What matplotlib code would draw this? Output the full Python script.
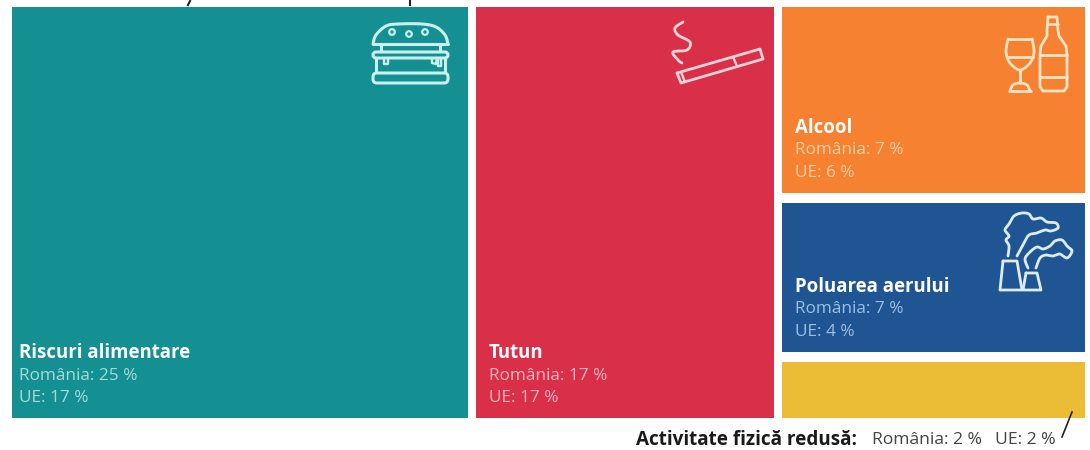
import matplotlib
matplotlib.use("Agg")
import matplotlib.pyplot as plt
import numpy as np
from matplotlib.patches import Rectangle, Circle, FancyBboxPatch

# ---- data ----
names = ["Riscuri alimentare", "Tutun", "Alcool", "Poluarea aerului", "Activitate fizică redusă"]
romania = [25, 17, 7, 7, 2]
eu = [17, 17, 6, 4, 2]
drawn_area = [25.0, 16.34, 7.90, 6.33, 2.38]   # area of each cell as measured on the picture
column_of = [0, 1, 2, 2, 2]
colors = ["#149093", "#D92F49", "#F58131", "#1F5592", "#EBBC36"]
label_colors = ["#A5DAD8", "#F4B4BE", "#FBCFA6", "#9CBFE4", "#444444"]

plt.rcParams["font.family"] = ["Open Sans", "DejaVu Sans"]
fig = plt.figure(figsize=(10.9, 4.5), dpi=100, facecolor="white")
ax = fig.add_axes([0, 0, 1, 1])
ax.set_xlim(0, 1090); ax.set_ylim(450, 0); ax.axis("off")

# ---- treemap layout computed from the areas ----
X0, X1, Y0, Y1 = 12, 1085, 7, 418
GX, GY = 8, 10
areas = np.array(drawn_area)
cols = sorted(set(column_of))
col_tot = [areas[[i for i, c in enumerate(column_of) if c == k]].sum() for k in cols]
avail = (X1 - X0) - GX * (len(cols) - 1)
cells = []
x = X0
for k, tot in zip(cols, col_tot):
    w = avail * tot / sum(col_tot)
    idx = [i for i, c in enumerate(column_of) if c == k]
    h_av = (Y1 - Y0) - GY * (len(idx) - 1)
    y = Y0
    for i in idx:
        h = h_av * areas[i] / tot
        cells.append((x, y, w, h))
        ax.add_patch(Rectangle((x, y), w, h, fc=colors[i], ec="none"))
        y += h + GY
    x += w + GX

BODY = 12.4
HEAD = 13.4
for i in range(4):
    cx, cy, cw, ch = cells[i]
    bottom = cy + ch
    tx = cx + (7 if i == 0 else 13)
    ax.text(tx, bottom - 65, names[i], color="white", fontsize=HEAD, fontweight="bold", va="center", ha="left")
    ax.text(tx, bottom - 42.5, f"România: {romania[i]} %", color=label_colors[i], fontsize=BODY, va="center", ha="left")
    ax.text(tx, bottom - 20, f"UE: {eu[i]} %", color=label_colors[i], fontsize=BODY, va="center", ha="left")

# outside label of the smallest cell
ax.text(636, 440, names[4] + ":", color="#1a1a1a", fontsize=13.6, fontweight="bold", va="center", ha="left")
ax.text(872, 440, f"România: {romania[4]} %", color="#444444", fontsize=12.6, va="center", ha="left")
ax.text(995, 440, f"UE: {eu[4]} %", color="#444444", fontsize=12.6, va="center", ha="left")
ax.plot([1072, 1062], [412, 437], color="#222222", lw=1.2)

# clipped fragments of a cut-off line at the top edge
ax.plot([190, 188], [1, 5], color="#222222", lw=1.5)
ax.plot([410, 410], [0, 5], color="#222222", lw=1.5)


def smooth(pts, closed=False, n=12):
    p = np.array(pts, float)
    if closed:
        p = np.vstack([p[-1], p, p[0], p[1]])
    else:
        p = np.vstack([p[0], p, p[-1]])
    out = []
    for i in range(1, len(p) - 2):
        for t in np.linspace(0, 1, n, endpoint=False):
            a, b, c, d = p[i - 1], p[i], p[i + 1], p[i + 2]
            out.append(0.5 * (2 * b + (c - a) * t + (2 * a - 5 * b + 4 * c - d) * t ** 2 + (3 * b - a - 3 * c + d) * t ** 3))
    out.append(p[-2])
    return np.array(out)


def line(pts, col, lw=2.2):
    p = np.array(pts, float)
    ax.plot(p[:, 0], p[:, 1], color=col, lw=lw, solid_capstyle="round", solid_joinstyle="round")


def rbox(x, y, w, h, r, col, lw=2.2):
    ax.add_patch(FancyBboxPatch((x + r, y + r), w - 2 * r, h - 2 * r, boxstyle=f"round,pad={r}", fc="none", ec=col, lw=lw))


# burger icon
c = "#C9F0EE"
line(smooth([(373, 44), (376, 35), (386, 26), (398, 24), (422, 24), (436, 27), (445, 35), (448, 44)]), c)
line([(373, 44), (448, 44)], c)
for sx, sy in [(392, 32), (409, 34), (425, 32)]:
    ax.add_patch(Circle((sx, sy), 2.8, fc="none", ec=c, lw=1.6))
line([(381, 45), (381, 51)], c); line([(440, 45), (440, 51)], c)
rbox(373, 52, 75, 6, 3, c)
line([(376, 58), (376, 72)], c); line([(445, 58), (445, 72)], c)
line([(384, 58), (384, 64), (388, 64), (388, 58)], c, 1.7)
line([(432, 58), (432, 63), (436, 64), (437, 58)], c, 1.7)
line([(438, 58), (438, 66), (441, 66), (441, 58)], c, 1.7)
rbox(373, 73, 75, 10, 4, c)

# cigarette icon
c = "#F9D2D8"
line([(677, 73), (760, 49), (763, 59), (681, 83), (677, 73)], c, 2.0)
line([(733, 57), (737, 66)], c, 1.7)
line([(681, 72), (685, 82)], c, 1.7)
line(smooth([(683, 22), (675, 28), (678, 35), (690, 42), (687, 50), (673, 52), (678, 60), (682, 63)]), c, 2.0)

# wine and bottle icon
c = "#FDE3C4"
line(smooth([(1008, 39), (1006, 52), (1010, 63), (1020, 70), (1030, 63), (1034, 52), (1032, 39)]), c, 2.0)
line([(1008, 39), (1032, 39)], c, 2.0)
line([(1007, 57), (1033, 57)], c, 2.0)
line([(1020, 70), (1020, 83)], c, 2.0)
line(smooth([(1010, 91), (1013, 85), (1020, 83), (1027, 85), (1030, 91)]), c, 2.0)
line([(1009, 91), (1031, 91)], c, 2.0)
line([(1048, 17), (1057, 17), (1058, 30), (1059, 36), (1066, 46), (1067, 55), (1067, 87),
      (1064, 91), (1043, 91), (1040, 87), (1040, 55), (1041, 46), (1047, 36), (1047, 30), (1048, 17)], c, 2.0)
line([(1047, 24), (1058, 24)], c, 1.8)
line([(1040, 55), (1067, 55)], c, 2.0)
line([(1040, 77), (1067, 77)], c, 2.0)

# factory icon
c = "#DDEBF7"
line([(1003, 261), (1017, 261), (1022, 290), (1000, 290), (1003, 261)], c, 2.0)
line([(1026, 273), (1037, 273), (1041, 290), (1023, 290), (1026, 273)], c, 2.0)
line(smooth([(1008, 256), (1009, 246), (1006, 240), (1009, 236), (1005, 230), (1009, 224), (1014, 216), (1022, 213),
             (1029, 214), (1033, 219), (1041, 218), (1047, 222), (1056, 223), (1058, 228), (1051, 231),
             (1045, 230), (1037, 233), (1029, 235), (1024, 243), (1017, 256)]), c, 2.0)
line(smooth([(1028, 268), (1025, 259), (1030, 252), (1037, 247), (1043, 249), (1050, 246), (1055, 241), (1062, 240),
             (1067, 246), (1072, 251), (1067, 258), (1060, 254), (1053, 256), (1046, 255), (1040, 258), (1036, 268)]), c, 2.0)

fig.savefig("out.png", dpi=100)
